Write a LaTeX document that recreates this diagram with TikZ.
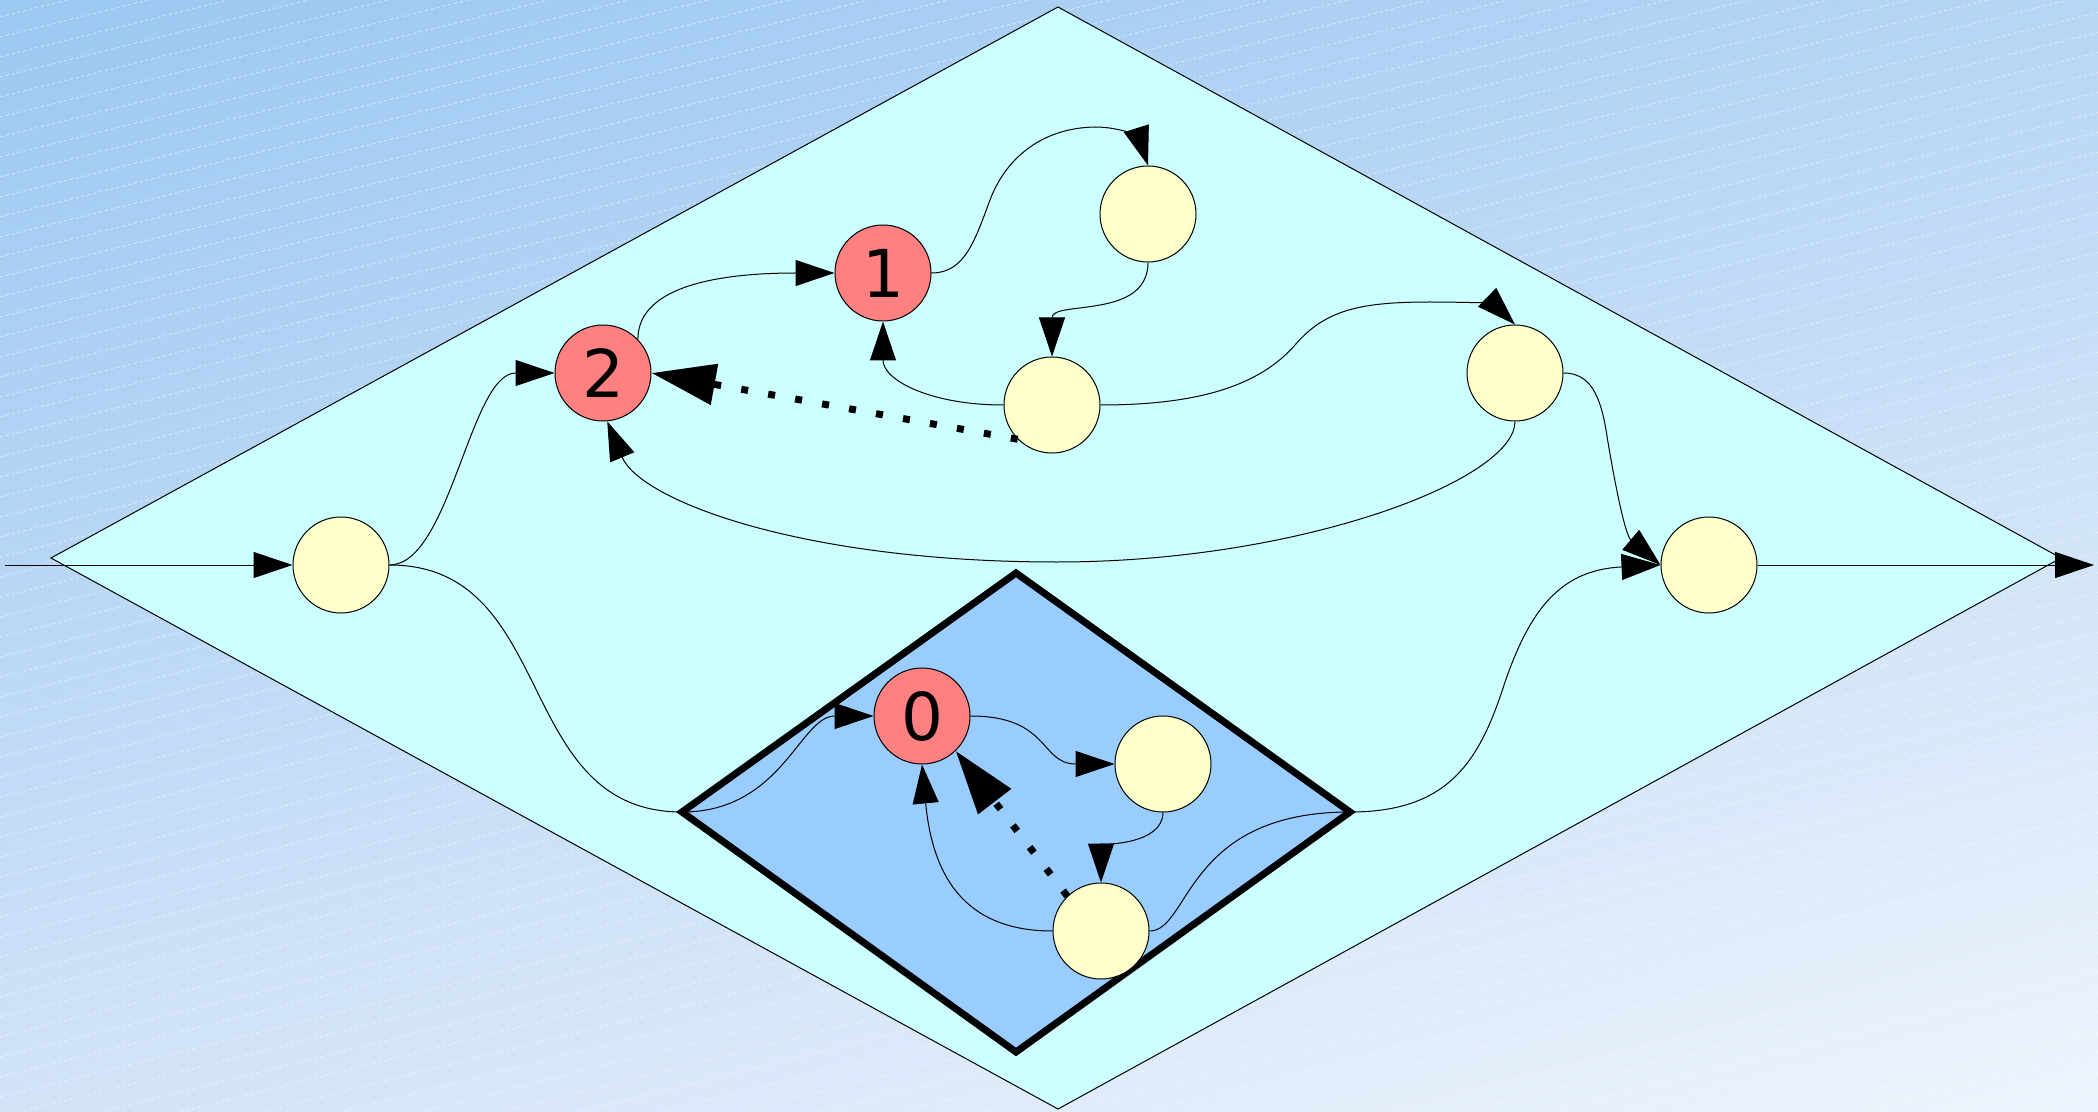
\documentclass[tikz,border=0pt]{standalone}
\usepackage{fontspec}
\setsansfont{DejaVu Sans}
\usetikzlibrary{arrows.meta,shadings}
\definecolor{bgTL}{HTML}{9CC8F2}
\definecolor{bgTR}{HTML}{B7D5F4}
\definecolor{bgBL}{HTML}{D2E3F8}
\definecolor{bgBR}{HTML}{EEF4FD}
\definecolor{outerfill}{HTML}{CCFFFF}
\definecolor{innerfill}{HTML}{99CCFF}
\definecolor{redstate}{HTML}{FF8080}
\definecolor{yelstate}{HTML}{FFFFCC}
\begin{document}
\begin{tikzpicture}[x=0.5pt,y=-0.5pt,
  state/.style={circle,draw,line width=0.5pt,minimum size=48pt,inner sep=0pt,
    font=\sffamily\fontsize{33}{33}\selectfont},
  redst/.style={state,fill=redstate},
  yelst/.style={state,fill=yelstate},
  edge/.style={line width=0.5pt,-{Triangle[length=19.5pt,width=13pt]}},
  plain/.style={line width=0.5pt},
  dotarrow/.style={line width=3.5pt,dash pattern=on 3.5pt off 10.2pt,
    -{Triangle[length=32pt,width=20pt]}},
  bgline/.style={white,opacity=0.45,line width=0.5pt,dash pattern=on 1.5pt off 1.5pt},
]
\useasboundingbox (0,0) rectangle (2098,1112);
\shade[upper left=bgTL,upper right=bgTR,lower left=bgBL,lower right=bgBR]
  (0,0) rectangle (2098,1112);
\begin{scope}
  \clip (0,0) rectangle (2098,1112);
  \foreach \k in {-1,...,83} {
    \draw[bgline] (0,{17+20*\k}) -- (2098,{17+20*\k-524.5});
  }
\end{scope}

% outer diamond
\draw[fill=outerfill,line width=0.5pt] (1058,7) -- (2061,558) -- (1058,1109) -- (51,558) -- cycle;
% inner diamond
\draw[fill=innerfill,line width=3.5pt,line join=miter] (1016,573) -- (1350,812) -- (1016,1052) -- (682,812) -- cycle;

\coordinate (L) at (682,812);
\coordinate (R) at (1350,812);
\coordinate (in) at (5,565);
\coordinate (out) at (2094,565);

\node[yelst] (A) at (341,565) {};
\node[redst] (N2) at (603,373) {2};
\node[redst] (N1) at (883,273) {1};
\node[yelst] (Y1) at (1148,214) {};
\node[yelst] (Y2) at (1052,405) {};
\node[yelst] (Y3) at (1515,373) {};
\node[yelst] (Y4) at (1709,565) {};
\node[redst] (N0) at (922,716) {0};
\node[yelst] (Y5) at (1163,764) {};
\node[yelst] (Y6) at (1101,931) {};

% outer level edges
\draw[edge] (in) -- (A.west);
\draw[plain] (A.east) .. controls (559,565) and (512,812) .. (L);
\draw[edge] (A.east) .. controls (450,565) and (470,373) .. (N2.west);
\draw[edge] (N2.44) .. controls +(0,-55) and +(-110,0) .. (N1.west);
\draw[edge] (N1.east) .. controls (965,273) and (975,240) .. (990,200)
  .. controls (1005,160) and (1040,128) .. (1095,127)
  .. controls (1125,127) and (1140,140) .. (Y1.north);
\draw[edge] (Y1.south) .. controls (1148,320) and (1052,300) .. (Y2.north);
\draw[edge] (Y2.west) .. controls (930,405) and (883,380) .. (N1.south);
\draw[edge] (Y2.east) .. controls (1200,405) and (1260,385) .. (1295,345)
  .. controls (1325,310) and (1360,302) .. (1430,302)
  .. controls (1480,302) and (1495,305) .. (Y3.north);
\draw[edge] (Y3.south) .. controls (1515,480) and (1300,562) .. (1057,562)
  .. controls (800,562) and (640,500) .. (N2.-85);
\draw[edge] (Y3.east) .. controls (1590,373) and (1600,395) .. (1606,430)
  .. controls (1614,480) and (1625,535) .. (Y4.west);
\draw[edge] (R) .. controls (1450,812) and (1480,760) .. (1505,682)
  .. controls (1530,610) and (1560,570) .. (Y4.west);
\draw[edge] (Y4.east) -- (out);

% inner level edges
\draw[edge] (L) .. controls (782,812) and (800,716) .. (N0.west);
\draw[edge] (N0.east) .. controls (1050,716) and (1040,764) .. (Y5.west);
\draw[edge] (Y5.south) .. controls (1163,845) and (1101,845) .. (Y6.north);
\draw[edge] (Y6.west) .. controls (960,931) and (932,870) .. (N0.south);
\draw[plain] (Y6.east) .. controls (1190,931) and (1185,812) .. (R);

% dotted arrows
\draw[dotarrow] (Y2.225) -- (N2.east);
\draw[dotarrow] (Y6.134) -- (N0.-46);
\end{tikzpicture}
\end{document}
